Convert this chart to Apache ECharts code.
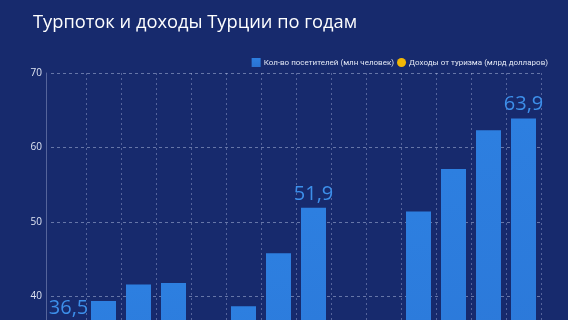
<!DOCTYPE html>
<html>
<head>
<meta charset="utf-8">
<script src="https://cdn.jsdelivr.net/npm/echarts@6/dist/echarts.min.js"></script>
<style>
  html, body { margin: 0; padding: 0; background: #172a6d; overflow: hidden; }
  /* график выше окна: видна только верхняя часть, как на исходнике */
  #chart { width: 568px; height: 640px; }
</style>
</head>
<body>
<div id="chart"></div>
<script>
// годы
var years = ['2012','2013','2014','2015','2016','2017','2018','2019','2020','2021','2022','2023','2024','2025'];
// кол-во посетителей, млн человек
var visitors = [36.5, 39.4, 41.6, 41.8, 31.4, 38.7, 45.8, 51.9, 15.9, 30.0, 51.4, 57.1, 62.3, 63.9];
// доходы от туризма, млрд долларов (за пределами видимой области)
var revenue = [29.0, 32.3, 34.3, 31.5, 22.1, 26.3, 29.5, 34.5, 12.1, 24.5, 46.3, 54.3, 61.1, 64.0];
// подписи только у отдельных столбцов
var labelled = ['2012', '2019', '2025'];
var yTicks = [0, 10, 20, 30, 40, 50, 60, 70];

var chart = echarts.init(document.getElementById('chart'));

var barData = visitors.map(function (v, i) {
    return {
        value: v,
        label: { show: labelled.indexOf(years[i]) >= 0 }
    };
});

var option = {
    backgroundColor: '#172a6d',
    animation: false,
    title: {
        text: 'Турпоток и доходы Турции по годам',
        left: 28,
        top: 9,
        textStyle: {
            color: '#ffffff',
            fontSize: 18.3,
            fontWeight: 'normal',
            fontFamily: 'Open Sans'
        }
    },
    legend: {
        right: 15,
        top: 53,
        itemWidth: 9,
        itemHeight: 9,
        itemGap: 3,
        textStyle: { color: '#e2e7f4', fontSize: 8, fontFamily: 'Roboto', padding: [0, 0, 0, -2] },
        data: [
            { name: 'Кол-во посетителей (млн человек)', icon: 'rect' },
            { name: 'Доходы от туризма (млрд долларов)', icon: 'circle' }
        ]
    },
    grid: {
        left: 51,
        right: 27,
        top: 73,
        bottom: 45.5
    },
    xAxis: {
        type: 'category',
        data: years,
        axisLine: { show: false },
        axisTick: { show: false },
        axisLabel: { show: false },
        splitLine: {
            show: true,
            showMinLine: false,
            lineStyle: { color: 'rgba(200,210,240,0.35)', type: [2, 3], width: 1 }
        }
    },
    yAxis: [{
        type: 'value',
        min: yTicks[0],
        max: yTicks[yTicks.length - 1],
        interval: 10,
        offset: 5,
        axisLine: { show: true, lineStyle: { color: 'rgba(200,210,240,0.35)' } },
        axisTick: { show: false },
        axisLabel: { color: '#dfe4f2', fontSize: 10, fontFamily: 'Open Sans', margin: 4 },
        splitLine: {
            lineStyle: { color: 'rgba(200,210,240,0.45)', type: [3, 3], width: 1 }
        }
    }, {
        type: 'value',
        min: 0,
        max: 200,
        show: false,
        splitLine: { show: false }
    }],
    series: [{
        name: 'Кол-во посетителей (млн человек)',
        type: 'bar',
        barWidth: 25,
        data: barData,
        itemStyle: {
            color: new echarts.graphic.LinearGradient(0, 0, 0, 1, [
                { offset: 0, color: '#2d7fe0' },
                { offset: 1, color: '#2a72d2' }
            ])
        },
        label: {
            position: 'top',
            distance: 4,
            color: '#3d8fea',
            fontSize: 20,
            fontFamily: 'Open Sans',
            formatter: function (p) { return String(p.value).replace('.', ','); }
        }
    }, {
        name: 'Доходы от туризма (млрд долларов)',
        type: 'line',
        yAxisIndex: 1,
        data: revenue,
        symbol: 'circle',
        symbolSize: 7,
        itemStyle: { color: '#f2b705' },
        lineStyle: { color: '#f2b705', width: 2 }
    }]
};

chart.setOption(option);
</script>
</body>
</html>
